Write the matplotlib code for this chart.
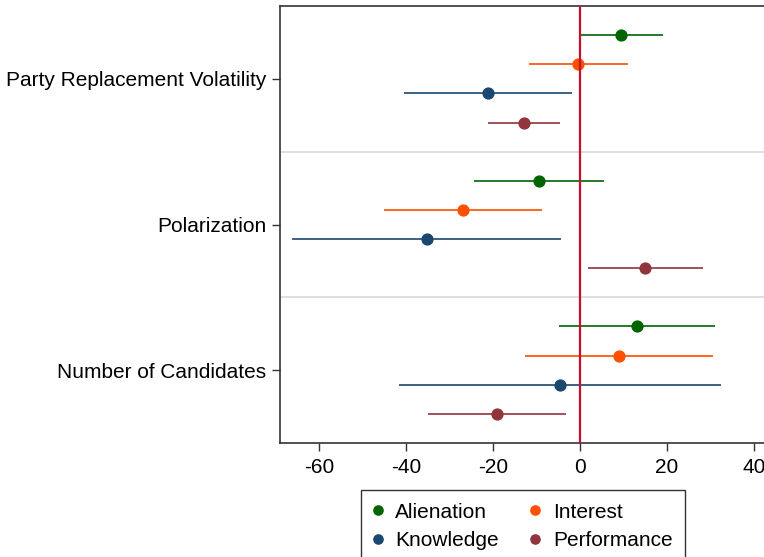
import matplotlib
matplotlib.use('Agg')
import matplotlib.pyplot as plt
import numpy as np

plt.rcParams['font.family'] = ['Liberation Sans', 'DejaVu Sans']

# outcomes, top to bottom
outcomes = ['Party Replacement Volatility', 'Polarization', 'Number of Candidates']
series = ['Alienation', 'Interest', 'Knowledge', 'Performance']
colors = ['#006400', '#ff4f00', '#1a476f', '#90353b']

# point estimates per series, one value per outcome
est = {
    'Alienation':  [9.5, -9.5, 13.0],
    'Interest':    [-0.4, -27.0, 8.9],
    'Knowledge':   [-21.2, -35.3, -4.6],
    'Performance': [-12.8, 15.0, -19.2],
}
# confidence intervals
lo = {
    'Alienation':  [0.2, -24.5, -4.9],
    'Interest':    [-11.7, -45.1, -12.7],
    'Knowledge':   [-40.5, -66.2, -41.6],
    'Performance': [-21.1, 1.9, -34.9],
}
hi = {
    'Alienation':  [19.0, 5.5, 30.9],
    'Interest':    [11.0, -8.8, 30.6],
    'Knowledge':   [-1.8, -4.3, 32.3],
    'Performance': [-4.6, 28.2, -3.3],
}
xticks = [-60, -40, -20, 0, 20, 40]

fs = 15
fig = plt.figure(figsize=(7.64, 5.57), dpi=100)
ax = fig.add_axes([280/764, 1-443/557, 1.003-280/764, (443-6)/557])

gap = 5  # rows per outcome incl. separator
handles = {}
for j, s in enumerate(series):
    y = np.arange(len(outcomes))*gap + j
    e = np.array(est[s])
    l = np.array(lo[s])
    h = np.array(hi[s])
    ax.hlines(y, l, h, color=colors[j], lw=1.2, zorder=3)
    handles[s], = ax.plot(e, y, 'o', color=colors[j], ms=7.8, zorder=4, label=s)

# separators between outcomes
for k in range(1, len(outcomes)):
    ax.axhline(k*gap - 1, color='#dcdcdc', lw=1.3, zorder=1)

ax.axvline(0, color='#c8102e', lw=1.6, zorder=5)

ax.set_xlim(-69.0, 42.8)
ax.set_ylim(len(outcomes)*gap - 1, -1)
ax.set_xticks(xticks)
ax.set_xticklabels([str(t) for t in xticks], fontsize=fs)
ax.set_yticks(np.arange(len(outcomes))*gap + 1.5)
ax.set_yticklabels(outcomes, fontsize=fs)
ax.tick_params(axis='both', length=6, width=1, color='#333333')
ax.tick_params(axis='y', pad=4)
ax.tick_params(axis='x', pad=5)
for sp in ax.spines.values():
    sp.set_color('#333333')
    sp.set_linewidth(1.2)

# legend filled row by row like the original
order = ['Alienation', 'Knowledge', 'Interest', 'Performance']
leg = fig.legend([handles[s] for s in order], order,
                 loc='upper left', bbox_to_anchor=(361/764, 1-490/557), ncol=2,
                 borderaxespad=0, fontsize=fs, frameon=True, fancybox=False,
                 edgecolor='black', handletextpad=0.65, columnspacing=1.55,
                 handlelength=0.4, borderpad=0.6, labelspacing=0.45,
                 markerscale=0.85)
leg.get_frame().set_linewidth(1.0)

fig.savefig('out.png', dpi=100)
